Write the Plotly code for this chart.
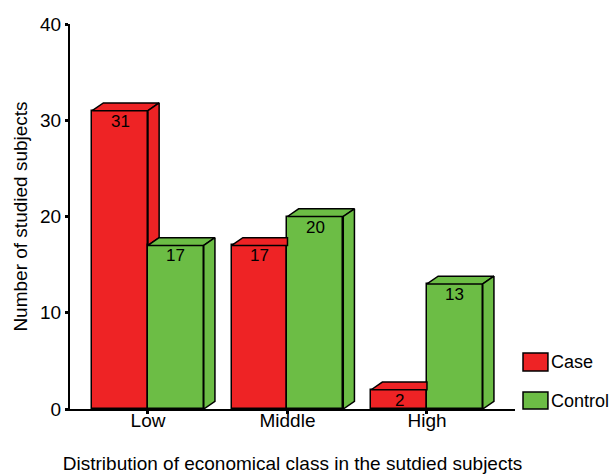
import plotly.graph_objects as go

categories = ["Low", "Middle", "High"]
case_values = [31, 17, 2]
control_values = [17, 20, 13]
series_names = ["Case", "Control"]
y_ticks = [0, 10, 20, 30, 40]

RED = "#EE2325"
GREEN = "#6CBD45"
FONT = "Liberation Sans, Arial, sans-serif"

W = 0.40   # bar width (x units)
DX = 0.08  # depth offset x
DY = 0.8   # depth offset y

fig = go.Figure()

def poly(xs, ys, color, name):
    fig.add_trace(go.Scatter(
        x=xs + [xs[0]], y=ys + [ys[0]], mode="lines", fill="toself",
        fillcolor=color, line=dict(color="black", width=1.5),
        hoverinfo="skip", showlegend=False, name=name))

xpos = list(range(len(categories)))

# front faces as bars
fig.add_trace(go.Bar(x=xpos, y=case_values, width=W, offset=-W, name=series_names[0],
                     marker=dict(color=RED, line=dict(color="black", width=1.5)),
                     showlegend=False))
fig.add_trace(go.Bar(x=xpos, y=control_values, width=W, offset=0, name=series_names[1],
                     marker=dict(color=GREEN, line=dict(color="black", width=1.5)),
                     showlegend=False))

# 3D faces
for i, c, k in zip(xpos, case_values, control_values):
    x0, x1 = i - W, i
    if c > k:
        poly([x0, x1, x1 + DX, x0 + DX], [c, c, c + DY, c + DY], RED, "Case top")
        poly([x1, x1, x1 + DX, x1 + DX], [k, c, c + DY, k + DY], RED, "Case side")
    else:
        poly([x0, x1, x1, x0 + DX], [c, c, c + DY, c + DY], RED, "Case top")
    x2 = i + W
    poly([x1, x2, x2 + DX, x1 + DX], [k, k, k + DY, k + DY], GREEN, "Control top")
    poly([x2, x2, x2 + DX, x2 + DX], [0, k, k + DY, DY], GREEN, "Control side")

# value labels
for i, c, k in zip(xpos, case_values, control_values):
    fig.add_annotation(x=i - W / 2, y=c, text=str(c), showarrow=False, yanchor="top",
                       yshift=1, font=dict(size=17, color="black", family=FONT))
    fig.add_annotation(x=i + W / 2, y=k, text=str(k), showarrow=False, yanchor="top",
                       yshift=1, font=dict(size=17, color="black", family=FONT))

# manual legend
legend_items = [(series_names[0], RED, 0.1455, 0.0987), (series_names[1], GREEN, 0.044, 0.0)]
for name, color, ytop, ybot in legend_items:
    fig.add_shape(type="rect", xref="paper", yref="paper", x0=1.018, x1=1.074,
                  y0=ybot, y1=ytop, fillcolor=color, line=dict(color="black", width=1.5))
    fig.add_annotation(xref="paper", yref="paper", x=1.076, y=(ytop + ybot) / 2, text=name,
                       showarrow=False, xanchor="left", yanchor="middle",
                       font=dict(size=18, color="black", family=FONT))

fig.update_layout(
    width=612, height=474,
    margin=dict(l=70, r=97, t=24, b=65, autoexpand=False),
    plot_bgcolor="white", paper_bgcolor="white",
    barmode="overlay", bargap=0,
    font=dict(family=FONT, size=19, color="black"),
    showlegend=False,
    xaxis=dict(range=[-0.559, 2.631], tickvals=xpos, ticktext=categories,
               showline=True, linecolor="black", linewidth=1.5,
               ticks="outside", ticklen=3, tickwidth=3, tickcolor="black",
               ticklabelstandoff=-10,
               showgrid=False, zeroline=False, automargin=False,
               title=dict(text="Distribution of economical class in the sutdied subjects",
                          standoff=30, font=dict(size=19))),
    yaxis=dict(range=[0, 40], tickvals=y_ticks,
               showline=True, linecolor="black", linewidth=2,
               ticks="outside", ticklen=3, tickwidth=3, tickcolor="black",
               showgrid=False, zeroline=False, automargin=False,
               title=dict(text="Number of studied subjects", standoff=7, font=dict(size=19))),
)

fig.write_html("out.html")
